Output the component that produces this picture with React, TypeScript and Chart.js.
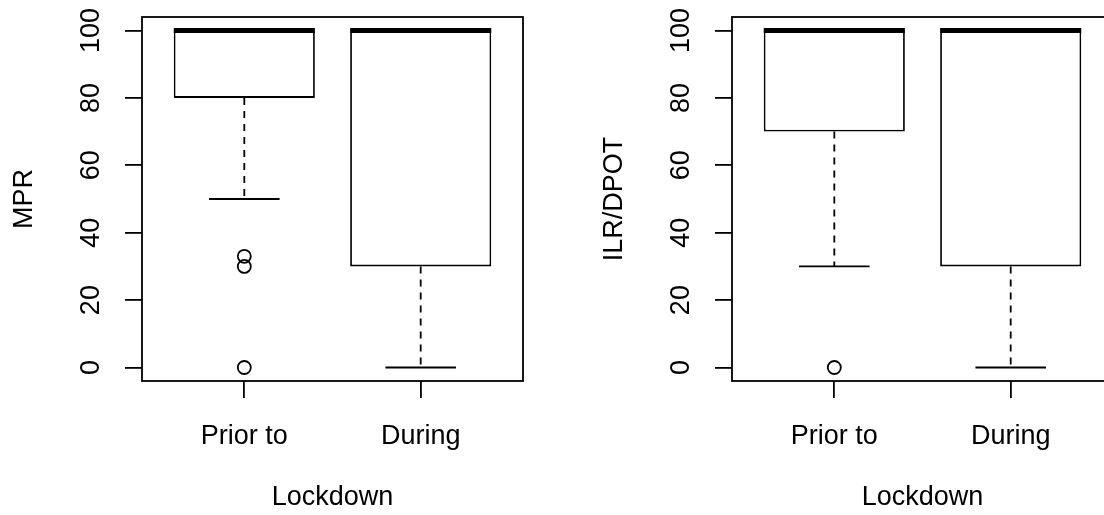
import React, { useEffect, useRef } from "react";
import { Chart, registerables } from "chart.js";

Chart.register(...registerables);

// ---- data ----
const categories = ["Prior to", "During"];
const yTicks = [0, 20, 40, 60, 80, 100];
const xTitle = "Lockdown";

const mprTitle = "MPR";
const mprLowerWhisker = [50, 0];
const mprQ1 = [80, 30];
const mprMedian = [100, 100];
const mprQ3 = [100, 100];
const mprUpperWhisker = [100, 100];
const mprOutliers = [[33, 30, 0], []];

const ilrTitle = "ILR/DPOT";
const ilrLowerWhisker = [30, 0];
const ilrQ1 = [70, 30];
const ilrMedian = [100, 100];
const ilrQ3 = [100, 100];
const ilrUpperWhisker = [100, 100];
const ilrOutliers = [[0], []];

const FONT = "'Liberation Sans', Arial, Helvetica, sans-serif";
const FONT_SIZE = 27;
const LW = 1.8;
const BOX_HALF = 0.4;
const STAPLE_HALF = 0.2;

type Stats = {
  title: string;
  low: number[];
  q1: number[];
  med: number[];
  q3: number[];
  high: number[];
  out: number[][];
};

function Panel({ stats, left }: { stats: Stats; left: number }) {
  const ref = useRef<HTMLCanvasElement | null>(null);
  useEffect(() => {
    if (!ref.current) return;
    const plugin = {
      id: "rbox",
      afterDatasetsDraw(chart: any) {
        const ctx = chart.ctx;
        const xs = chart.scales.x;
        const ys = chart.scales.y;
        ctx.save();
        ctx.strokeStyle = "#000";
        categories.forEach((_, i) => {
          const c = i + 1;
          const px = xs.getPixelForValue(c);
          // dashed whiskers
          ctx.lineWidth = LW;
          ctx.setLineDash([7, 6]);
          ctx.beginPath();
          if (stats.low[i] < stats.q1[i]) {
            ctx.moveTo(px, ys.getPixelForValue(stats.q1[i]));
            ctx.lineTo(px, ys.getPixelForValue(stats.low[i]));
          }
          if (stats.high[i] > stats.q3[i]) {
            ctx.moveTo(px, ys.getPixelForValue(stats.q3[i]));
            ctx.lineTo(px, ys.getPixelForValue(stats.high[i]));
          }
          ctx.stroke();
          ctx.setLineDash([]);
          // staples
          ctx.beginPath();
          const sl = xs.getPixelForValue(c - STAPLE_HALF);
          const sr = xs.getPixelForValue(c + STAPLE_HALF);
          const yl = ys.getPixelForValue(stats.low[i]);
          const yh = ys.getPixelForValue(stats.high[i]);
          ctx.moveTo(sl, yl);
          ctx.lineTo(sr, yl);
          ctx.moveTo(sl, yh);
          ctx.lineTo(sr, yh);
          ctx.stroke();
          // median
          ctx.lineWidth = 5;
          ctx.beginPath();
          const ym = ys.getPixelForValue(stats.med[i]);
          ctx.moveTo(xs.getPixelForValue(c - BOX_HALF), ym);
          ctx.lineTo(xs.getPixelForValue(c + BOX_HALF), ym);
          ctx.stroke();
        });
        // frame
        const a = chart.chartArea;
        ctx.lineWidth = LW;
        ctx.strokeRect(a.left, a.top, a.right - a.left, a.bottom - a.top);
        ctx.restore();
      },
    };

    const outPts: { x: number; y: number }[] = [];
    stats.out.forEach((arr, i) => arr.forEach((v) => outPts.push({ x: i + 1, y: v })));

    const chart = new Chart(ref.current, {
      type: "bar",
      data: {
        datasets: [
          {
            type: "bar",
            data: categories.map((_, i) => ({ x: i + 1, y: [stats.q1[i], stats.q3[i]] })) as any,
            backgroundColor: "#fff",
            borderColor: "#000",
            borderWidth: LW,
            borderSkipped: false,
            categoryPercentage: 1,
            barPercentage: 2 * BOX_HALF,
          } as any,
          {
            type: "scatter",
            data: outPts as any,
            pointStyle: "circle",
            pointRadius: 6.5,
            pointBorderWidth: LW,
            pointBorderColor: "#000",
            pointBackgroundColor: "rgba(0,0,0,0)",
            showLine: false,
          } as any,
        ],
      },
      options: {
        responsive: false,
        animation: false,
        devicePixelRatio: 1,
        layout: { padding: { top: 17, right: 67, bottom: 0, left: 0 } },
        plugins: { legend: { display: false }, tooltip: { enabled: false } },
        scales: {
          x: {
            type: "linear",
            min: 0.42,
            max: 2.58,
            offset: false,
            afterBuildTicks: (axis: any) => {
              axis.ticks = categories.map((_, i) => ({ value: i + 1 }));
            },
            afterFit: (axis: any) => {
              axis.height = 134;
              axis.paddingLeft = 0;
              axis.paddingRight = 0;
            },
            border: { display: false },
            grid: {
              offset: false,
              drawOnChartArea: false,
              drawTicks: true,
              tickLength: 17,
              color: "#000",
              lineWidth: LW,
            },
            ticks: {
              autoSkip: false,
              maxRotation: 0,
              minRotation: 0,
              padding: 22,
              color: "#000",
              font: { family: FONT, size: FONT_SIZE },
              callback: (v: any) => categories[Math.round(Number(v)) - 1] ?? "",
            },
            title: {
              display: true,
              text: xTitle,
              color: "#000",
              font: { family: FONT, size: FONT_SIZE },
              padding: { top: 0, bottom: 1 },
            },
          },
          y: {
            type: "linear",
            min: -4,
            max: 104,
            afterBuildTicks: (axis: any) => {
              axis.ticks = yTicks.map((v) => ({ value: v }));
            },
            afterFit: (axis: any) => {
              axis.width = 142;
              axis.paddingTop = 0;
              axis.paddingBottom = 0;
            },
            border: { display: false },
            grid: {
              drawOnChartArea: false,
              drawTicks: true,
              tickLength: 17,
              color: "#000",
              lineWidth: LW,
            },
            ticks: {
              minRotation: 90,
              maxRotation: 90,
              crossAlign: "center",
              padding: 11,
              color: "#000",
              font: { family: FONT, size: FONT_SIZE },
              callback: (v: any) => String(v),
            },
            title: {
              display: true,
              text: stats.title,
              color: "#000",
              font: { family: FONT, size: FONT_SIZE },
              padding: { top: 8, bottom: 0 },
            },
          },
        },
      } as any,
      plugins: [plugin],
    });
    return () => chart.destroy();
  }, [stats]);

  return (
    <canvas
      ref={ref}
      width={590}
      height={515}
      style={{ position: "absolute", left, top: 0, width: 590, height: 515 }}
    />
  );
}

const mprStats: Stats = {
  title: mprTitle,
  low: mprLowerWhisker,
  q1: mprQ1,
  med: mprMedian,
  q3: mprQ3,
  high: mprUpperWhisker,
  out: mprOutliers,
};
const ilrStats: Stats = {
  title: ilrTitle,
  low: ilrLowerWhisker,
  q1: ilrQ1,
  med: ilrMedian,
  q3: ilrQ3,
  high: ilrUpperWhisker,
  out: ilrOutliers,
};

export default function App() {
  return (
    <div
      style={{
        position: "absolute",
        left: 0,
        top: 0,
        width: 1104,
        height: 515,
        overflow: "hidden",
        background: "#fff",
      }}
    >
      <Panel stats={mprStats} left={0} />
      <Panel stats={ilrStats} left={590} />
    </div>
  );
}
